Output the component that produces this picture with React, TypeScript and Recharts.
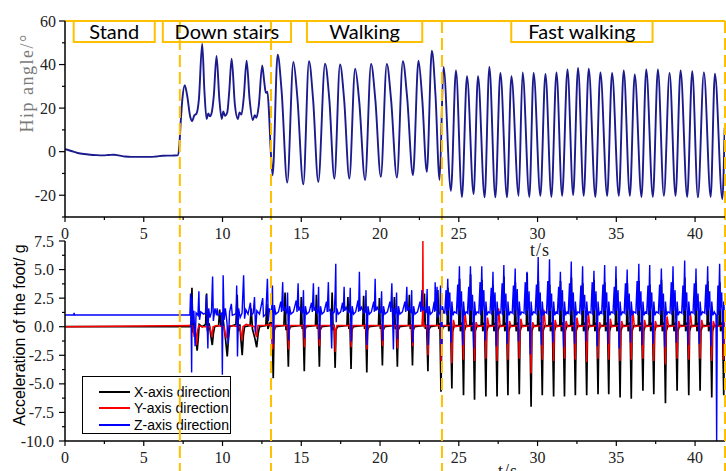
import React from 'react';
import { LineChart, Line, XAxis, YAxis, ReferenceLine, ReferenceArea } from 'recharts';

type P = [number, number];

// ---------- Hip angle (deg) vs time (s) ----------
const hipAngle: P[] = [
  [0, 1.2], [0.4, 0.3], [0.8, -0.6], [1.2, -1.1], [1.6, -1.4], [2.0, -1.6], [2.4, -1.7], [2.8, -1.5], [3.1, -1.4], [3.4, -1.7],
  [3.8, -2.2], [4.2, -2.4], [4.8, -2.4], [5.4, -2.4], [5.8, -2.2], [6.2, -1.9], [6.8, -1.8], [7.15, -1.7],
  [7.25, 2], [7.35, 14], [7.45, 24], [7.6, 30.5], [7.75, 26], [7.95, 16], [8.07, 14], [8.2, 16.5], [8.35, 17.5], [8.5, 24],
  [8.71, 49.6], [8.85, 28], [8.99, 15], [9.1, 17.5], [9.2, 16.2], [9.3, 17.5], [9.45, 26], [9.62, 44], [9.8, 24], [9.95, 15],
  [10.05, 18.5], [10.15, 16.5], [10.3, 18], [10.42, 27], [10.58, 42.7], [10.78, 22], [10.97, 15], [11.08, 18], [11.2, 17],
  [11.35, 25], [11.53, 41.8], [11.72, 24], [11.92, 14.5], [12.05, 16.8], [12.15, 15.5], [12.3, 21], [12.52, 39.6], [12.65, 32],
  [12.75, 27], [12.85, 27.5], [12.95, 18], [13.05, 2], [13.18, -10.8],
  [13.5, 44.5], [13.75, 28], [14.11, -14.2], [14.5, 41.2], [14.75, 25], [15.13, -15], [15.49, 41.5], [15.75, 24], [16.08, -13.9],
  [16.51, 40.4], [16.78, 24], [17.1, -12.4], [17.46, 40], [17.72, 24], [18.05, -12.4], [18.42, 38.1], [18.68, 23], [19.05, -13],
  [19.43, 40.3], [19.7, 24], [20.05, -11.5], [20.43, 40.3], [20.7, 24], [21.07, -11.9], [21.45, 41.5], [21.72, 25], [22.09, -10.8],
  [22.44, 41.8], [22.68, 24], [22.97, -9.3], [23.29, 46.4], [23.52, 26], [23.78, -13], [24.03, 38.9], [24.5, -18],
  [24.82, 37.3], [25.2, -20.8], [25.52, 34.6], [25.94, -19.5], [26.22, 34.6], [26.64, -21], [26.94, 38.9], [27.32, -21],
  [27.64, 36.2], [28.06, -21], [28.34, 34.6], [28.8, -20.3], [29.05, 36.4], [29.48, -20.8], [29.75, 36.2], [30.18, -20.3],
  [30.5, 35.7], [30.88, -20.8], [31.2, 36.4], [31.56, -20.3], [31.9, 37.7], [32.26, -19.9], [32.57, 38.4], [32.93, -20.3],
  [33.25, 38.1], [33.67, -20.8], [33.99, 36.4], [34.42, -20.3], [34.73, 36.2], [35.16, -20.3], [35.47, 37.3], [35.86, -20.3],
  [36.17, 35.4], [36.6, -20.8], [36.9, 37.7], [37.32, -20.8], [37.64, 37.7], [38.02, -20.3], [38.38, 36.2], [38.76, -20.3],
  [39.08, 37.3], [39.5, -20.8], [39.82, 36.9], [40.18, -21], [40.56, 36.4], [40.99, -20.8], [41.26, 35.8], [41.73, -21.8], [41.88, 11],
];

// ---------- Foot acceleration (g): X axis ----------
const accX: P[] = [
  [0, 0], [7.95, 0],
  [8.0, 0.3], [8.06, 3.4], [8.1, -0.5], [8.18, 0.4], [8.3, -1.0], [8.39, -2.1], [8.45, -1.2], [8.52, 0.2], [8.7, 0],
  [8.93, 0.2], [8.99, 2.9], [9.04, -0.4], [9.15, 0.3], [9.28, -1.0], [9.35, -1.6], [9.42, -0.6], [9.5, 0],
  [9.75, 0.1], [9.82, 1.5], [9.9, 0], [10.05, 0.5], [10.2, -1.2], [10.3, -2.6], [10.38, -1.0], [10.45, 0],
  [10.85, 0.2], [10.93, 2.8], [10.99, -0.4], [11.1, 0.2], [11.18, -1.3], [11.25, -2.5], [11.32, -0.8], [11.4, 0],
  [11.75, 0.1], [11.82, 1.6], [11.9, -0.2], [12.05, -1.0], [12.17, -1.8], [12.26, -0.6], [12.35, 0],
  [12.75, 0.1], [12.82, 2.0], [12.88, -0.2], [13.0, 0.3],
  [13.1, 0.5], [13.17, -1.5], [13.22, -4.5], [13.27, -0.4], [13.35, 0],
  [13.9, 0.1], [13.97, 3.0], [14.03, -0.3], [14.1, 0.2], [14.18, -3.5], [14.23, -0.3], [14.3, 0],
  [14.95, 0.1], [15.0, 2.6], [15.06, -0.2], [15.12, 0.2], [15.19, -3.9], [15.24, -0.3], [15.3, 0],
  [15.9, 0.1], [15.96, 2.8], [16.02, -0.2], [16.08, 0.2], [16.15, -3.5], [16.2, -0.3], [16.3, 0],
  [16.9, 0.1], [16.96, 3.0], [17.02, -0.3], [17.08, 0.2], [17.15, -3.6], [17.2, -0.3], [17.3, 0],
  [17.9, 0.1], [17.96, 2.6], [18.02, -0.2], [18.09, 0.2], [18.16, -3.7], [18.21, -0.3], [18.3, 0],
  [18.9, 0.1], [18.96, 2.7], [19.02, -0.2], [19.09, 0.2], [19.16, -4.0], [19.21, -0.3], [19.3, 0],
  [19.9, 0.1], [19.96, 2.5], [20.02, -0.2], [20.08, 0.2], [20.15, -3.4], [20.2, -0.3], [20.3, 0],
  [20.85, 0.1], [20.91, 2.6], [20.97, -0.2], [21.03, 0.2], [21.1, -3.5], [21.15, -0.3], [21.25, 0],
  [21.8, 0.1], [21.86, 2.8], [21.92, -0.2], [21.99, 0.2], [22.06, -3.4], [22.11, -0.3], [22.2, 0],
  [22.75, 0.1], [22.82, 2.9], [22.88, -0.2], [22.96, 0.2], [23.04, -3.9], [23.09, -0.3], [23.2, 0],
  [23.6, 0.1], [23.67, 3.2], [23.73, -0.2], [23.8, 0.3], [23.87, -5.7], [23.92, -0.4], [24.0, 0],
  [24.26, 0.1], [24.31, 3.4], [24.36, -0.4], [24.48, 0.4], [24.56, -5.4], [24.61, -0.4], [24.71, 0.1],
  [25.0, 0.1], [25.05, 4.2], [25.1, -0.4], [25.22, 0.4], [25.3, -6.0], [25.35, -0.4], [25.45, 0.1],
  [25.7, 0.1], [25.75, 4.6], [25.8, -0.4], [25.92, 0.4], [26.0, -6.4], [26.05, -0.4], [26.15, 0.1],
  [26.42, 0.1], [26.47, 4.1], [26.52, -0.4], [26.64, 0.4], [26.72, -6.1], [26.77, -0.4], [26.87, 0.1],
  [27.13, 0.1], [27.18, 3.6], [27.23, -0.4], [27.35, 0.4], [27.43, -6.1], [27.48, -0.4], [27.58, 0.1],
  [27.82, 0.1], [27.87, 4.4], [27.92, -0.4], [28.04, 0.4], [28.12, -6.0], [28.17, -0.4], [28.27, 0.1],
  [28.54, 0.1], [28.59, 3.9], [28.64, -0.4], [28.76, 0.4], [28.84, -5.9], [28.89, -0.4], [28.99, 0.1],
  [29.29, 0.1], [29.34, 4.7], [29.39, -0.4], [29.51, 0.4], [29.59, -7.0], [29.64, -0.4], [29.74, 0.1],
  [30.0, 0.1], [30.05, 4.0], [30.1, -0.4], [30.22, 0.4], [30.3, -6.0], [30.35, -0.4], [30.45, 0.1],
  [30.72, 0.1], [30.77, 3.7], [30.82, -0.4], [30.94, 0.4], [31.02, -6.1], [31.07, -0.4], [31.17, 0.1],
  [31.41, 0.1], [31.46, 4.0], [31.51, -0.4], [31.63, 0.4], [31.71, -6.1], [31.76, -0.4], [31.86, 0.1],
  [32.1, 0.1], [32.15, 4.3], [32.2, -0.4], [32.32, 0.4], [32.4, -6.0], [32.45, -0.4], [32.55, 0.1],
  [32.82, 0.1], [32.87, 3.8], [32.92, -0.4], [33.04, 0.4], [33.12, -6.0], [33.17, -0.4], [33.27, 0.1],
  [33.54, 0.1], [33.59, 4.1], [33.64, -0.4], [33.76, 0.4], [33.84, -5.9], [33.89, -0.4], [33.99, 0.1],
  [34.22, 0.1], [34.27, 3.9], [34.32, -0.4], [34.44, 0.4], [34.52, -5.9], [34.57, -0.4], [34.67, 0.1],
  [34.94, 0.1], [34.99, 4.2], [35.04, -0.4], [35.16, 0.4], [35.24, -6.2], [35.29, -0.4], [35.39, 0.1],
  [35.65, 0.1], [35.7, 3.8], [35.75, -0.4], [35.87, 0.4], [35.95, -6.3], [36.0, -0.4], [36.1, 0.1],
  [36.39, 0.1], [36.44, 4.0], [36.49, -0.4], [36.61, 0.4], [36.69, -5.6], [36.74, -0.4], [36.84, 0.1],
  [37.08, 0.1], [37.13, 3.7], [37.18, -0.4], [37.3, 0.4], [37.38, -5.9], [37.43, -0.4], [37.53, 0.1],
  [37.82, 0.1], [37.87, 4.1], [37.92, -0.4], [38.04, 0.4], [38.12, -6.7], [38.17, -0.4], [38.27, 0.1],
  [38.56, 0.1], [38.61, 3.9], [38.66, -0.4], [38.78, 0.4], [38.86, -5.6], [38.91, -0.4], [39.01, 0.1],
  [39.3, 0.1], [39.35, 4.3], [39.4, -0.4], [39.52, 0.4], [39.6, -6.0], [39.65, -0.4], [39.75, 0.1],
  [40.02, 0.1], [40.07, 3.8], [40.12, -0.4], [40.24, 0.4], [40.32, -5.6], [40.37, -0.4], [40.47, 0.1],
  [40.76, 0.1], [40.81, 4.0], [40.86, -0.4], [40.98, 0.4], [41.06, -6.2], [41.11, -0.4], [41.21, 0.1],
  [41.52, 0.1], [41.57, 3.9], [41.62, -0.4], [41.74, 0.4], [41.82, -6.0], [41.87, -0.4], [41.9, 0.1],
];

// ---------- Foot acceleration (g): Y axis ----------
const accY: P[] = [
  [0, 0], [8.1, 0.1], [8.2, -0.9], [8.25, -0.2], [8.3, -0.6], [8.35, -1.6], [8.42, -0.3], [8.5, 0.1], [8.7, 0],
  [9.2, 0], [9.27, -0.5], [9.33, -0.9], [9.4, 0], [9.6, 0.1],
  [10.1, 0], [10.17, -0.7], [10.25, -1.0], [10.32, -0.2], [10.45, 0.1],
  [11.1, 0], [11.17, -0.6], [11.23, -1.2], [11.3, 0], [11.5, 0.2],
  [12.05, 0], [12.1, -0.6], [12.16, -0.9], [12.25, 0.1], [12.6, 0.1],
  [13.1, 0.2], [13.18, -2.0], [13.25, -0.3], [13.35, 0.1],
  [14.1, 0.1], [14.16, -0.6], [14.19, -2.0], [14.23, -0.2], [14.3, 0.1],
  [15.11, 0.1], [15.17, -0.5], [15.2, -1.8], [15.24, -0.2], [15.31, 0.1],
  [16.07, 0.1], [16.13, -0.5], [16.16, -1.7], [16.2, -0.2], [16.27, 0.1],
  [17.07, 0.1], [17.13, -0.6], [17.16, -2.2], [17.2, -0.2], [17.27, 0.1],
  [18.08, 0.1], [18.14, -0.5], [18.17, -1.8], [18.21, -0.2], [18.28, 0.1],
  [19.08, 0.1], [19.14, -0.6], [19.17, -2.0], [19.21, -0.2], [19.28, 0.1],
  [20.07, 0.1], [20.13, -0.5], [20.16, -1.7], [20.2, -0.2], [20.27, 0.1],
  [21.02, 0.1], [21.08, -0.5], [21.11, -1.9], [21.15, -0.2], [21.22, 0.1],
  [21.98, 0.1], [22.04, -0.5], [22.07, -1.7], [22.11, -0.2], [22.18, 0.1],
  [22.66, 0.1], [22.7, 1.0], [22.72, 7.5], [22.75, 0.3], [22.8, 0],
  [22.96, 0.1], [23.02, -0.6], [23.05, -2.5], [23.09, -0.2], [23.16, 0.1],
  [23.79, 0.1], [23.85, -0.6], [23.88, -3.0], [23.92, -0.2], [23.99, 0.1],
  [24.48, 0.1], [24.53, -0.8], [24.56, -3.2], [24.6, -0.3], [24.66, 0.6], [24.76, 0],
  [25.22, 0.1], [25.27, -0.8], [25.3, -2.9], [25.34, -0.3], [25.4, 1.2], [25.5, 0],
  [25.92, 0.1], [25.97, -0.8], [26.0, -3.0], [26.04, -0.3], [26.1, 0.4], [26.2, 0],
  [26.64, 0.1], [26.69, -0.8], [26.72, -2.8], [26.76, -0.3], [26.82, 0.8], [26.92, 0],
  [27.35, 0.1], [27.4, -0.8], [27.43, -3.0], [27.47, -0.3], [27.53, 1.6], [27.63, 0],
  [28.04, 0.1], [28.09, -0.8], [28.12, -2.9], [28.16, -0.3], [28.22, 0.5], [28.32, 0],
  [28.76, 0.1], [28.81, -0.8], [28.84, -2.8], [28.88, -0.3], [28.94, 0.7], [29.04, 0],
  [29.51, 0.1], [29.56, -0.8], [29.59, -4.1], [29.63, -0.3], [29.69, 0.4], [29.79, 0],
  [30.22, 0.1], [30.27, -0.8], [30.3, -2.9], [30.34, -0.3], [30.4, 1.5], [30.5, 0],
  [30.94, 0.1], [30.99, -0.8], [31.02, -3.0], [31.06, -0.3], [31.12, 0.6], [31.22, 0],
  [31.63, 0.1], [31.68, -0.8], [31.71, -2.8], [31.75, -0.3], [31.81, 0.5], [31.91, 0],
  [32.32, 0.1], [32.37, -0.8], [32.4, -2.9], [32.44, -0.3], [32.5, 0.8], [32.6, 0],
  [33.04, 0.1], [33.09, -0.8], [33.12, -3.1], [33.16, -0.3], [33.22, 1.3], [33.32, 0],
  [33.76, 0.1], [33.81, -0.8], [33.84, -2.8], [33.88, -0.3], [33.94, 0.4], [34.04, 0],
  [34.44, 0.1], [34.49, -0.8], [34.52, -2.9], [34.56, -0.3], [34.62, 0.7], [34.72, 0],
  [35.16, 0.1], [35.21, -0.8], [35.24, -3.0], [35.28, -0.3], [35.34, 0.5], [35.44, 0],
  [35.87, 0.1], [35.92, -0.8], [35.95, -2.9], [35.99, -0.3], [36.05, 1.4], [36.15, 0],
  [36.61, 0.1], [36.66, -0.8], [36.69, -2.8], [36.73, -0.3], [36.79, 0.6], [36.89, 0],
  [37.3, 0.1], [37.35, -0.8], [37.38, -3.0], [37.42, -0.3], [37.48, 0.5], [37.58, 0],
  [38.04, 0.1], [38.09, -0.8], [38.12, -3.3], [38.16, -0.3], [38.22, 0.9], [38.32, 0],
  [38.78, 0.1], [38.83, -0.8], [38.86, -2.8], [38.9, -0.3], [38.96, 0.5], [39.06, 0],
  [39.52, 0.1], [39.57, -0.8], [39.6, -2.9], [39.64, -0.3], [39.7, 1.2], [39.8, 0],
  [40.24, 0.1], [40.29, -0.8], [40.32, -2.8], [40.36, -0.3], [40.42, 0.6], [40.52, 0],
  [40.98, 0.1], [41.03, -0.8], [41.06, -3.0], [41.1, -0.3], [41.16, 0.5], [41.26, 0],
  [41.74, 0.1], [41.79, -0.8], [41.82, -2.9], [41.86, -0.3], [41.9, 0.5],
];

// ---------- Foot acceleration (g): Z axis ----------
const accZ: P[] = [
  [0, 1.03], [0.55, 1.03], [0.58, 1.2], [0.61, 1.03],
  [7.93, 1.05], [7.97, 2.9], [8.01, 0.2], [8.04, -4.0], [8.07, 2.6], [8.12, 0.3], [8.18, 1.4], [8.26, -1.7], [8.32, 1.2],
  [8.44, 1.0], [8.5, 3.1], [8.54, 0.6], [8.62, 1.3], [8.8, 1.1],
  [8.92, 1.2], [8.97, 2.8], [9.03, 0.2], [9.07, -1.9], [9.12, 1.6], [9.2, 0.8], [9.3, 1.3], [9.37, 4.4], [9.42, 0.5],
  [9.52, 1.6], [9.62, 1.0], [9.66, 1.6], [9.72, 1.0], [9.85, 1.1],
  [9.95, 1.2], [9.99, -4.2], [10.04, 4.5], [10.1, 0.6], [10.18, 1.6], [10.28, 0.4], [10.36, -1.5], [10.45, 1.3],
  [10.56, 2.0], [10.62, 1.0], [10.8, 1.1],
  [10.86, 1.2], [10.9, 3.6], [10.95, -2.6], [11.02, 1.6], [11.12, 0.8], [11.24, 1.2], [11.34, 4.5], [11.4, 0.7],
  [11.48, 1.5], [11.62, 1.1], [11.77, 2.1], [11.83, 1.0],
  [11.95, 1.2], [12.03, 2.6], [12.1, -0.5], [12.18, 1.4], [12.35, 1.1], [12.55, 2.5], [12.6, 0.9], [12.75, 1.1],
  [12.85, 4.2], [12.91, 0.5], [12.98, 1.6], [13.08, 1.2],
  [13.12, 1.3], [13.17, 3.6], [13.2, 0.5], [13.24, -1.5], [13.29, 1.9], [13.38, 1.1], [13.55, 1.3], [13.7, 2.2], [13.75, 1.3], [13.82, 3.9], [13.86, 1.4], [13.95, 1.7], [14.05, 1.2],
  [14.08, 1.3], [14.13, 3.0], [14.16, 0.6], [14.2, -1.2], [14.25, 1.8], [14.34, 1.1], [14.5, 1.3], [14.68, 2.3], [14.73, 1.3], [14.8, 3.8], [14.84, 1.4], [14.93, 1.7], [15.05, 1.2],
  [15.09, 1.3], [15.14, 3.2], [15.17, 0.5], [15.21, -1.0], [15.26, 1.8], [15.35, 1.1], [15.5, 1.3], [15.65, 2.1], [15.7, 1.3], [15.77, 3.8], [15.81, 1.4], [15.9, 1.7], [16.0, 1.2],
  [16.05, 1.3], [16.1, 3.5], [16.13, 0.5], [16.17, -1.1], [16.22, 1.8], [16.31, 1.1], [16.45, 1.3], [16.6, 2.2], [16.65, 1.3], [16.72, 3.9], [16.76, 1.4], [16.85, 1.5], [16.93, -1.9], [16.98, 1.3], [17.05, 1.2],
  [17.1, 1.3], [17.15, 3.0], [17.19, 5.5], [17.22, 0.4], [17.26, 1.6], [17.35, 1.1], [17.5, 1.3], [17.62, 2.1], [17.67, 1.3], [17.72, 3.5], [17.76, 1.4], [17.85, 1.7], [18.0, 1.2],
  [18.06, 1.3], [18.11, 3.4], [18.14, 0.5], [18.18, -1.3], [18.23, 1.8], [18.32, 1.1], [18.45, 1.3], [18.6, 2.3], [18.64, 1.3], [18.69, 4.8], [18.73, 1.4], [18.82, 1.7], [18.98, 1.2],
  [19.06, 1.3], [19.11, 3.2], [19.14, 0.5], [19.18, -1.6], [19.23, 1.8], [19.32, 1.1], [19.45, 1.3], [19.6, 2.2], [19.64, 1.3], [19.69, 4.2], [19.73, 1.4], [19.82, 1.7], [19.98, 1.2],
  [20.05, 1.3], [20.1, 3.1], [20.13, 0.5], [20.17, -1.2], [20.22, 1.8], [20.31, 1.1], [20.47, 1.3], [20.63, 2.2], [20.68, 1.3], [20.75, 3.8], [20.79, 1.2], [20.85, -2.0], [20.9, 1.6], [20.98, 1.2],
  [21.0, 1.3], [21.05, 3.0], [21.08, 0.5], [21.12, -1.1], [21.17, 1.8], [21.26, 1.1], [21.42, 1.3], [21.58, 2.2], [21.63, 1.3], [21.7, 3.5], [21.74, 1.4], [21.83, 1.7], [21.95, 1.2],
  [21.96, 1.3], [22.01, 3.2], [22.04, 0.5], [22.08, -1.4], [22.13, 1.8], [22.22, 1.1], [22.38, 1.3], [22.54, 2.2], [22.59, 1.3], [22.66, 3.2], [22.7, 1.4], [22.79, 1.7], [22.9, 1.2],
  [22.94, 1.3], [22.99, 3.3], [23.02, 0.5], [23.06, -1.6], [23.11, 1.8], [23.2, 1.1], [23.33, 1.3], [23.44, 2.2], [23.47, 1.3], [23.5, 3.9], [23.54, 1.4], [23.62, 3.5], [23.66, 0.8],
  [23.8, 1.3], [23.84, 3.6], [23.87, -0.8], [23.91, -2.6], [23.96, 1.8], [24.05, 1.2],
  [24.11, 1.2], [24.19, 3.2], [24.23, 1.0], [24.3, 4.2], [24.34, 1.4], [24.43, 3.0], [24.51, -1.4], [24.56, 2.2], [24.63, 1.0], [24.72, 1.3],
  [24.85, 1.2], [24.93, 3.7], [24.97, 1.0], [25.04, 5.3], [25.08, 1.4], [25.17, 3.1], [25.25, -1.6], [25.3, 2.2], [25.37, 1.0], [25.46, 1.3],
  [25.55, 1.2], [25.63, 3.5], [25.67, 1.0], [25.74, 5.3], [25.78, 1.4], [25.87, 2.8], [25.95, -1.9], [26.0, 2.2], [26.07, 1.0], [26.16, 1.3],
  [26.27, 1.2], [26.35, 3.9], [26.39, 1.0], [26.46, 5.3], [26.5, 1.4], [26.59, 3.2], [26.67, -1.2], [26.72, 2.2], [26.79, 1.0], [26.88, 1.3],
  [26.98, 1.2], [27.06, 3.4], [27.1, 1.0], [27.17, 4.8], [27.21, 1.4], [27.3, 3.0], [27.38, -1.7], [27.43, 2.2], [27.5, 1.0], [27.59, 1.3],
  [27.67, 1.2], [27.75, 3.8], [27.79, 1.0], [27.86, 5.4], [27.9, 1.4], [27.99, 2.9], [28.07, -1.5], [28.12, 2.2], [28.19, 1.0], [28.28, 1.3],
  [28.39, 1.2], [28.47, 3.6], [28.51, 1.0], [28.58, 5.1], [28.62, 1.4], [28.71, 3.3], [28.79, -1.3], [28.84, 2.2], [28.91, 1.0], [29.0, 1.3],
  [29.14, 1.2], [29.22, 3.9], [29.26, 1.0], [29.33, 4.8], [29.37, 1.4], [29.46, 3.1], [29.54, -2.4], [29.59, 2.2], [29.66, 1.0], [29.75, 1.3],
  [29.85, 1.2], [29.93, 3.7], [29.97, 1.0], [30.04, 6.1], [30.08, 1.4], [30.17, 3.0], [30.25, -1.6], [30.3, 2.2], [30.37, 1.0], [30.46, 1.3],
  [30.57, 1.2], [30.65, 4.0], [30.69, 1.0], [30.76, 5.9], [30.8, 1.4], [30.89, 2.9], [30.97, -1.4], [31.02, 2.2], [31.09, 1.0], [31.18, 1.3],
  [31.26, 1.2], [31.34, 3.5], [31.38, 1.0], [31.45, 4.8], [31.49, 1.4], [31.58, 3.2], [31.66, -1.8], [31.71, 2.2], [31.78, 1.0], [31.87, 1.3],
  [31.95, 1.2], [32.03, 3.8], [32.07, 1.0], [32.14, 5.7], [32.18, 1.4], [32.27, 3.0], [32.35, -1.5], [32.4, 2.2], [32.47, 1.0], [32.56, 1.3],
  [32.67, 1.2], [32.75, 3.6], [32.79, 1.0], [32.86, 5.3], [32.9, 1.4], [32.99, 2.8], [33.07, -1.3], [33.12, 2.2], [33.19, 1.0], [33.28, 1.3],
  [33.39, 1.2], [33.47, 3.9], [33.51, 1.0], [33.58, 4.9], [33.62, 1.4], [33.71, 3.1], [33.79, -1.7], [33.84, 2.2], [33.91, 1.0], [34.0, 1.3],
  [34.07, 1.2], [34.15, 3.7], [34.19, 1.0], [34.26, 5.4], [34.3, 1.4], [34.39, 3.0], [34.47, -1.5], [34.52, 2.2], [34.59, 1.0], [34.68, 1.3],
  [34.79, 1.2], [34.87, 3.5], [34.91, 1.0], [34.98, 5.3], [35.02, 1.4], [35.11, 3.2], [35.19, -1.9], [35.24, 2.2], [35.31, 1.0], [35.4, 1.3],
  [35.5, 1.2], [35.58, 3.8], [35.62, 1.0], [35.69, 5.0], [35.73, 1.4], [35.82, 2.9], [35.9, -1.4], [35.95, 2.2], [36.02, 1.0], [36.11, 1.3],
  [36.24, 1.2], [36.32, 4.0], [36.36, 1.0], [36.43, 5.5], [36.47, 1.4], [36.56, 3.1], [36.64, -1.6], [36.69, 2.2], [36.76, 1.0], [36.85, 1.3],
  [36.93, 1.2], [37.01, 3.6], [37.05, 1.0], [37.12, 5.4], [37.16, 1.4], [37.25, 3.0], [37.33, -1.5], [37.38, 2.2], [37.45, 1.0], [37.54, 1.3],
  [37.67, 1.2], [37.75, 3.7], [37.79, 1.0], [37.86, 5.1], [37.9, 1.4], [37.99, 2.9], [38.07, -1.8], [38.12, 2.2], [38.19, 1.0], [38.28, 1.3],
  [38.41, 1.2], [38.49, 3.9], [38.53, 1.0], [38.6, 5.3], [38.64, 1.4], [38.73, 3.2], [38.81, -1.4], [38.86, 2.2], [38.93, 1.0], [39.02, 1.3],
  [39.15, 1.2], [39.23, 3.6], [39.27, 1.0], [39.34, 5.8], [39.38, 1.4], [39.47, 3.0], [39.55, -1.6], [39.6, 2.2], [39.67, 1.0], [39.76, 1.3],
  [39.87, 1.2], [39.95, 3.8], [39.99, 1.0], [40.06, 5.1], [40.1, 1.4], [40.19, 2.9], [40.27, -1.5], [40.32, 2.2], [40.39, 1.0], [40.48, 1.3],
  [40.61, 1.2], [40.69, 3.7], [40.73, 1.0], [40.8, 5.3], [40.84, 1.4], [40.93, 3.1], [41.01, -1.7], [41.06, 2.2], [41.13, 1.0], [41.22, 1.3],
  [41.33, 1.0], [41.37, -10], [41.41, 1.2], [41.45, 3.6], [41.49, 1.0], [41.56, 5.5], [41.6, 1.4], [41.69, 3.0], [41.77, -1.5], [41.82, 2.2], [41.87, 1.0], [41.9, 1.3],
];

// ---------- Ticks, annotations ----------
const timeTicks = [0, 2.5, 5, 7.5, 10, 12.5, 15, 17.5, 20, 22.5, 25, 27.5, 30, 32.5, 35, 37.5, 40];
const hipTicks = [-30, -20, -10, 0, 10, 20, 30, 40, 50, 60];
const hipTickLabels = [-20, 0, 20, 40, 60];
const accTicks = [-10, -8.75, -7.5, -6.25, -5, -3.75, -2.5, -1.25, 0, 1.25, 2.5, 3.75, 5, 6.25, 7.5];
const phaseBoundaries = [7.29, 13.08, 23.93, 41.9];
const phaseNames = ['Stand', 'Down stairs', 'Walking', 'Fast walking'];
const seriesNames = ['X-axis direction', 'Y-axis direction', 'Z-axis direction'];

// layout (annotation box placement in data units)
const phaseBoxSpans: [number, number][] = [[0.55, 5.7], [6.21, 14.35], [15.36, 22.68], [28.33, 37.3]];
const phaseBoxY: [number, number] = [50.3, 60];

const W = 726;
const H = 471;
const T_MAX = 41.9;
const ORANGE = '#FFC000';
const HIP_COLOR = '#1b1b8e';
const ACC_COLORS = ['#000000', '#ff0000', '#0000ff'];
const ACC_WIDTHS = [1.7, 1.5, 1.4];
const SERIF = '"Liberation Serif", "Times New Roman", serif';
const SANS = '"Liberation Sans", Arial, sans-serif';

const rows = (pts: P[]) => pts.map(([t, v]) => ({ t, v }));
const hipRows = rows(hipAngle);
const accRows = [rows(accX), rows(accY), rows(accZ)];

const TimeTick = (props: any) => {
  const { x, y, payload } = props;
  const v = payload.value as number;
  const major = Math.abs(v % 5) < 1e-6;
  return (
    <g>
      <line x1={x} x2={x} y1={y} y2={y + (major ? 5 : 3)} stroke="#000" strokeWidth={1.2} />
      {major && (
        <text x={x} y={y + 22} textAnchor="middle" fontFamily={SERIF} fontSize={16} fill="#222">
          {v}
        </text>
      )}
    </g>
  );
};

const HipTick = (props: any) => {
  const { x, y, payload } = props;
  const v = payload.value as number;
  const major = hipTickLabels.includes(v);
  return (
    <g>
      <line x1={x - (major ? 6 : 3)} x2={x} y1={y} y2={y} stroke="#000" strokeWidth={1.2} />
      {major && (
        <text x={x - 9} y={y + 5.5} textAnchor="end" fontFamily={SERIF} fontSize={16} fill="#222">
          {v}
        </text>
      )}
    </g>
  );
};

const AccTick = (props: any) => {
  const { x, y, payload } = props;
  const v = payload.value as number;
  const major = Math.abs(v % 2.5) < 1e-6;
  return (
    <g>
      <line x1={x - (major ? 6 : 3)} x2={x} y1={y} y2={y} stroke="#000" strokeWidth={1.2} />
      {major && (
        <text x={x - 11} y={y + 5.5} textAnchor="end" fontFamily={SERIF} fontSize={16} fill="#222">
          {v.toFixed(1)}
        </text>
      )}
    </g>
  );
};

const PhaseLine = (props: any) => {
  const top = Math.min(props.y1, props.y2);
  return (
    <line x1={props.x1} x2={props.x2} y1={top} y2={H} stroke={ORANGE} strokeWidth={2} strokeDasharray="12 5" />
  );
};

const HipTitle = () => (
  <text
    x={0}
    y={0}
    transform="translate(33,83) rotate(-90)"
    textAnchor="middle"
    fontFamily={SERIF}
    fontSize={18}
    letterSpacing={1.5}
    fill="#7a7a7a"
  >
    Hip angle/°
  </text>
);

const AccTitle = () => (
  <text x={0} y={0} transform="translate(25,335) rotate(-90)" textAnchor="middle" fontFamily={SANS} fontSize={16} fill="#000">
    Acceleration of the foot/ g
  </text>
);

const TopTimeTitle = () => (
  <text x={540} y={256} textAnchor="middle" fontFamily={SERIF} fontSize={18} letterSpacing={1} fill="#222">
    t/s
  </text>
);

const BottomTimeTitle = () => (
  <text x={508} y={477} textAnchor="middle" fontFamily={SERIF} fontSize={18} letterSpacing={1} fill="#222">
    t/s
  </text>
);

export default function App() {
  return (
    <div style={{ position: 'absolute', left: 0, top: 0, width: W, height: H, background: '#fff', overflow: 'hidden' }}>
      {/* Bottom panel: foot acceleration */}
      <div style={{ position: 'absolute', left: 0, top: 0 }}>
        <LineChart width={W} height={H} margin={{ top: 241, right: 1, left: 0, bottom: 0 }}>
          <XAxis
            type="number"
            dataKey="t"
            domain={[0, T_MAX]}
            allowDataOverflow
            ticks={timeTicks}
            interval={0}
            tick={<TimeTick />}
            tickLine={false}
            tickSize={0}
            tickMargin={0}
            height={30}
            axisLine={{ stroke: '#000', strokeWidth: 1.5 }}
            label={<BottomTimeTitle />}
          />
          <YAxis
            type="number"
            domain={[-10, 7.5]}
            allowDataOverflow
            ticks={accTicks}
            interval={0}
            tick={<AccTick />}
            tickLine={false}
            tickSize={0}
            tickMargin={0}
            width={65}
            axisLine={{ stroke: '#000', strokeWidth: 1.5 }}
            label={<AccTitle />}
          />
          {accRows.map((d, i) => (
            <Line
              key={seriesNames[i]}
              name={seriesNames[i]}
              data={d}
              dataKey="v"
              type="linear"
              stroke={ACC_COLORS[i]}
              strokeWidth={ACC_WIDTHS[i]}
              dot={false}
              activeDot={false}
              isAnimationActive={false}
            />
          ))}
        </LineChart>
      </div>

      {/* Legend */}
      <div
        style={{
          position: 'absolute',
          left: 82,
          top: 376,
          width: 147,
          height: 56,
          border: '1.2px solid #000',
        }}
      >
        {seriesNames.map((n, i) => (
          <div
            key={n}
            style={{ position: 'absolute', left: 16, top: 7 + i * 16.3, height: 16, display: 'flex', alignItems: 'center' }}
          >
            <div style={{ width: 31, height: 0, borderTop: `2px solid ${ACC_COLORS[i]}` }} />
            <span style={{ marginLeft: 4, fontFamily: SANS, fontSize: 14, color: '#000', lineHeight: '16px', whiteSpace: 'nowrap' }}>
              {n}
            </span>
          </div>
        ))}
      </div>

      {/* Top panel: hip angle */}
      <div style={{ position: 'absolute', left: 0, top: 0 }}>
        <LineChart width={W} height={H} margin={{ top: 21, right: 1, left: 0, bottom: 231 }}>
          <XAxis
            type="number"
            dataKey="t"
            domain={[0, T_MAX]}
            allowDataOverflow
            ticks={timeTicks}
            interval={0}
            tick={<TimeTick />}
            tickLine={false}
            tickSize={0}
            tickMargin={0}
            height={23}
            axisLine={{ stroke: '#000', strokeWidth: 1.5 }}
            label={<TopTimeTitle />}
          />
          <YAxis
            type="number"
            domain={[-30, 60]}
            allowDataOverflow
            ticks={hipTicks}
            interval={0}
            tick={<HipTick />}
            tickLine={false}
            tickSize={0}
            tickMargin={0}
            width={65}
            axisLine={{ stroke: '#000', strokeWidth: 1.5 }}
            label={<HipTitle />}
          />
          <Line
            data={hipRows}
            dataKey="v"
            type="monotone"
            stroke={HIP_COLOR}
            strokeWidth={1.9}
            dot={false}
            activeDot={false}
            isAnimationActive={false}
          />
          <ReferenceLine y={60} stroke={ORANGE} strokeWidth={2} />
          {phaseNames.map((n, i) => (
            <ReferenceArea
              key={n}
              x1={phaseBoxSpans[i][0]}
              x2={phaseBoxSpans[i][1]}
              y1={phaseBoxY[0]}
              y2={phaseBoxY[1]}
              fill="#fff"
              fillOpacity={0}
              stroke={ORANGE}
              strokeWidth={2}
              label={{ value: n, position: 'center', fill: '#000', fontSize: 20, fontFamily: 'Lato, "Open Sans", sans-serif' }}
            />
          ))}
          {phaseBoundaries.map((t) => (
            <ReferenceLine key={t} x={t} stroke={ORANGE} shape={PhaseLine} />
          ))}
        </LineChart>
      </div>
    </div>
  );
}
